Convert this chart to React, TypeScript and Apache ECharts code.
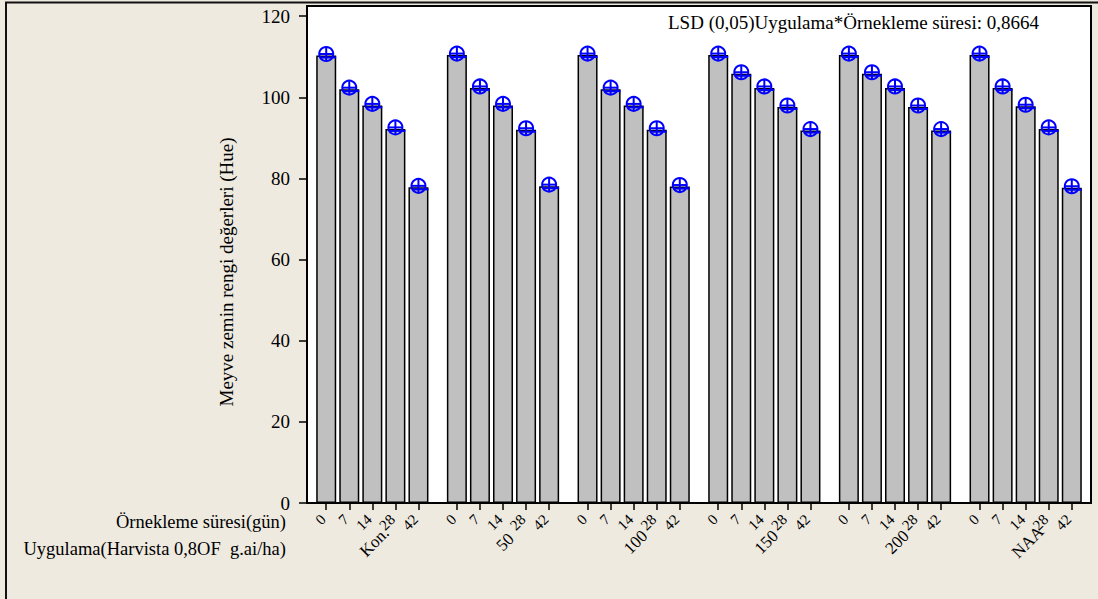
import React, { useEffect, useRef } from 'react';
import * as echarts from 'echarts';

// ---- data ----
const days = ['0', '7', '14', '28', '42'];
const treatments = ['Kon.', '50', '100', '150', '200', 'NAA'];
const hueKon = [110.3, 102.0, 98.0, 92.2, 77.8];
const hue50 = [110.4, 102.3, 98.0, 92.0, 78.1];
const hue100 = [110.4, 102.0, 98.0, 92.0, 78.0];
const hue150 = [110.4, 105.8, 102.3, 97.6, 91.8];
const hue200 = [110.4, 105.8, 102.3, 97.6, 91.8];
const hueNAA = [110.4, 102.3, 97.8, 92.2, 77.7];
const yTickValues = [0, 20, 40, 60, 80, 100, 120];

const yTitle = 'Meyve zemin rengi değerleri (Hue)';
const xTitleDays = 'Örnekleme süresi(gün)';
const xTitleGroups = 'Uygulama(Harvista 0,8OF  g.ai/ha)';
const lsdText = 'LSD (0,05)Uygulama*Örnekleme süresi: 0,8664';

// ---- layout of category slots (fine slots so that gaps between groups fit) ----
const SLOT_COUNT = 102;
const FIRST_SLOT = 2;
const GROUP_SLOTS = 17;
const BAR_SLOTS = 3;

const FONT = '"Liberation Serif", "Times New Roman", serif';

export default function App() {
  const ref = useRef<HTMLDivElement>(null);

  useEffect(() => {
    if (!ref.current) return;
    const chart = echarts.init(ref.current, undefined, { renderer: 'svg' });

    const groupValues = [hueKon, hue50, hue100, hue150, hue200, hueNAA];
    const dayCats: string[] = new Array(SLOT_COUNT).fill('');
    const barData: (number | string)[] = new Array(SLOT_COUNT).fill('-');
    const markerData: number[][] = [];
    const dayLabelData: number[][] = [];
    const dayLabelText: string[] = [];
    const groupLabelData: number[][] = [];
    const groupLabelText: string[] = [];
    groupValues.forEach((vals, g) => {
      vals.forEach((v, i) => {
        const idx = FIRST_SLOT + g * GROUP_SLOTS + i * BAR_SLOTS;
        dayCats[idx] = days[i];
        barData[idx] = v;
        markerData.push([idx, v]);
        dayLabelData.push([idx, 0]);
        dayLabelText.push(days[i]);
      });
      groupLabelData.push([FIRST_SLOT + g * GROUP_SLOTS + 2 * BAR_SLOTS, 0]);
      groupLabelText.push(treatments[g]);
    });

    const yMax = yTickValues[yTickValues.length - 1] + 2.5;

    const option: any = {
      animation: false,
      backgroundColor: '#EEEAE0',
      grid: {
        left: 307,
        right: 7,
        top: 6,
        bottom: 96,
        show: true,
        backgroundColor: '#ffffff',
        borderColor: '#000000',
        borderWidth: 2,
        containLabel: false,
        outerBoundsMode: 'none',
      },
      xAxis: {
        type: 'category',
        data: dayCats,
        position: 'bottom',
        boundaryGap: true,
        axisLine: { show: true, lineStyle: { color: '#000', width: 2 } },
        axisTick: {
          show: true,
          alignWithLabel: true,
          length: 7,
          interval: (_i: number, v: string) => v !== '',
          lineStyle: { color: '#000', width: 1.5 },
        },
        axisLabel: { show: false },
        splitLine: { show: false },
      },
      yAxis: {
        type: 'value',
        min: 0,
        max: yMax,
        interval: 20,
        axisLine: { show: true, lineStyle: { color: '#000', width: 2 } },
        axisTick: { show: true, length: 8, lineStyle: { color: '#000', width: 1.5 } },
        axisLabel: {
          margin: 17,
          fontFamily: FONT,
          fontSize: 19,
          color: '#000',
          showMaxLabel: false,
          formatter: (v: number) => (yTickValues.indexOf(v) >= 0 ? String(v) : ''),
        },
        splitLine: { show: false },
      },
      series: [
        {
          type: 'bar',
          data: barData,
          barWidth: 20,
          itemStyle: { color: '#C0C0C0', borderColor: '#000', borderWidth: 1.5 },
          silent: true,
        },
        {
          type: 'custom',
          data: markerData,
          silent: true,
          renderItem: (_params: any, api: any) => {
            const p = api.coord([api.value(0), api.value(1)]);
            const cx = p[0];
            const cy = p[1] - 1.5;
            const r = 7;
            const st = { stroke: '#0000FF', lineWidth: 2, fill: 'none' };
            return {
              type: 'group',
              children: [
                { type: 'circle', shape: { cx, cy, r }, style: { ...st } },
                { type: 'line', shape: { x1: cx - r, y1: cy, x2: cx + r, y2: cy }, style: { ...st } },
                { type: 'line', shape: { x1: cx - r + 1, y1: cy + 3.5, x2: cx + r + 3, y2: cy + 3.5 }, style: { ...st } },
                { type: 'line', shape: { x1: cx, y1: cy - r, x2: cx, y2: cy + r }, style: { ...st } },
              ],
            };
          },
          z: 5,
        },
        {
          type: 'custom',
          data: dayLabelData,
          silent: true,
          clip: false,
          renderItem: (params: any, api: any) => {
            const p = api.coord([api.value(0), api.value(1)]);
            return {
              type: 'text',
              x: p[0] - 3,
              y: p[1] + 14,
              rotation: Math.PI / 4,
              style: {
                text: dayLabelText[params.dataIndex],
                fontFamily: FONT,
                fontSize: 15,
                fill: '#000',
                align: 'right',
                verticalAlign: 'middle',
              },
            };
          },
          z: 6,
        },
        {
          type: 'custom',
          data: groupLabelData,
          silent: true,
          clip: false,
          renderItem: (params: any, api: any) => {
            const p = api.coord([api.value(0), api.value(1)]);
            return {
              type: 'text',
              x: p[0] + 2,
              y: p[1] + 39,
              rotation: Math.PI / 4,
              style: {
                text: groupLabelText[params.dataIndex],
                fontFamily: FONT,
                fontSize: 17,
                fill: '#000',
                align: 'center',
                verticalAlign: 'middle',
              },
            };
          },
          z: 6,
        },
      ],
      graphic: [
        { type: 'line', shape: { x1: 5, y1: 2.5, x2: 1098, y2: 2.5 }, style: { stroke: '#111', lineWidth: 2 } },
        { type: 'line', shape: { x1: 6, y1: 2, x2: 6, y2: 599 }, style: { stroke: '#111', lineWidth: 2 } },
        {
          type: 'text',
          x: 226,
          y: 272,
          rotation: Math.PI / 2,
          style: {
            text: yTitle,
            fontFamily: FONT,
            fontSize: 19,
            fill: '#000',
            align: 'center',
            verticalAlign: 'middle',
          },
        },
        {
          type: 'text',
          x: 286,
          y: 522,
          style: { text: xTitleDays, fontFamily: FONT, fontSize: 18.5, fill: '#000', align: 'right', verticalAlign: 'middle' },
        },
        {
          type: 'text',
          x: 286,
          y: 549,
          style: { text: xTitleGroups, fontFamily: FONT, fontSize: 18.5, fill: '#000', align: 'right', verticalAlign: 'middle' },
        },
        {
          type: 'text',
          x: 668,
          y: 22,
          style: { text: lsdText, fontFamily: FONT, fontSize: 19, fill: '#000', align: 'left', verticalAlign: 'middle' },
        },
      ],
    };

    chart.setOption(option);
    return () => chart.dispose();
  }, []);

  return (
    <div
      ref={ref}
      style={{ position: 'fixed', left: 0, top: 0, width: 1098, height: 599 }}
    />
  );
}
